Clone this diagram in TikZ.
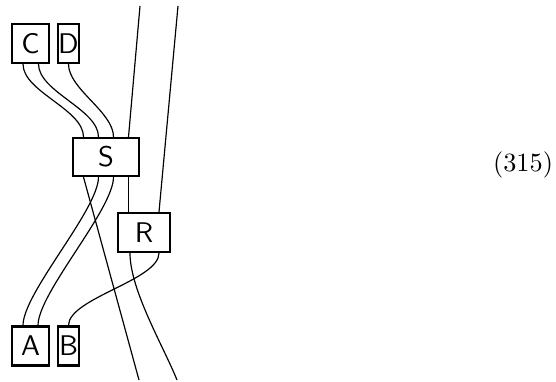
\documentclass[tikz,border=0pt]{standalone}
\usetikzlibrary{calc}
\begin{document}
\begin{tikzpicture}[x=0.38pt,y=-0.38pt,
  box/.style={draw,line width=0.8pt,inner sep=0pt,font=\sffamily\fontsize{10.8}{13}\selectfont},
  wide/.style={minimum width=14.06pt,minimum height=14.82pt},
  narrow/.style={minimum width=7.98pt,minimum height=14.82pt},
  wire/.style={line width=0.45pt}]
\useasboundingbox (0,0) rectangle (556,381);
\node[box,wide] (C) at (30.5,43.5) {C};
\node[box,narrow] (D) at (68.5,43.5) {D};
\node[box,minimum width=25.08pt,minimum height=14.44pt] (S) at (106,157) {S};
\node[box,minimum width=19.76pt,minimum height=14.82pt] (R) at (144,232.5) {R};
\node[box,wide] (A) at (30.5,346) {A};
\node[box,narrow] (B) at (68.5,346) {B};
\node (eq) at (523,165) {(315)};
\coordinate (t1) at (140,6);
\coordinate (t2) at (178,6);
\coordinate (b1) at (139,380);
\coordinate (b2) at (177,380);
% top
\draw[wire] ($(C.south)+(-7.5,0)$) to[out=-90,in=90,looseness=0.75] ($(S.north)+(-22.5,0)$);
\draw[wire] ($(C.south)+(8,0)$) to[out=-90,in=90,looseness=0.75] ($(S.north)+(-7.5,0)$);
\draw[wire] (D.south) to[out=-90,in=90,looseness=0.75] ($(S.north)+(7.5,0)$);
\draw[wire] (t1) -- ($(S.north)+(22.5,0)$);
\draw[wire] (t2) -- ($(R.north)+(15,0)$);
% middle
\draw[wire] ($(S.south)+(22.5,0)$) -- ($(R.north)+(-15.5,0)$);
\draw[wire] ($(S.south)+(-22.5,0)$) -- (b1);
\draw[wire] ($(S.south)+(-7.5,0)$) to[out=-90,in=90,looseness=0.5] ($(A.north)+(-7.5,0)$);
\draw[wire] ($(S.south)+(7.5,0)$) to[out=-90,in=90,looseness=0.5] ($(A.north)+(7.5,0)$);
% bottom
\draw[wire] ($(R.south)+(-14,0)$) to[out=-90,in=112,looseness=0.7] (b2);
\draw[wire] ($(R.south)+(15,0)$) to[out=-90,in=90,looseness=0.6] (B.north);
\end{tikzpicture}
\end{document}
